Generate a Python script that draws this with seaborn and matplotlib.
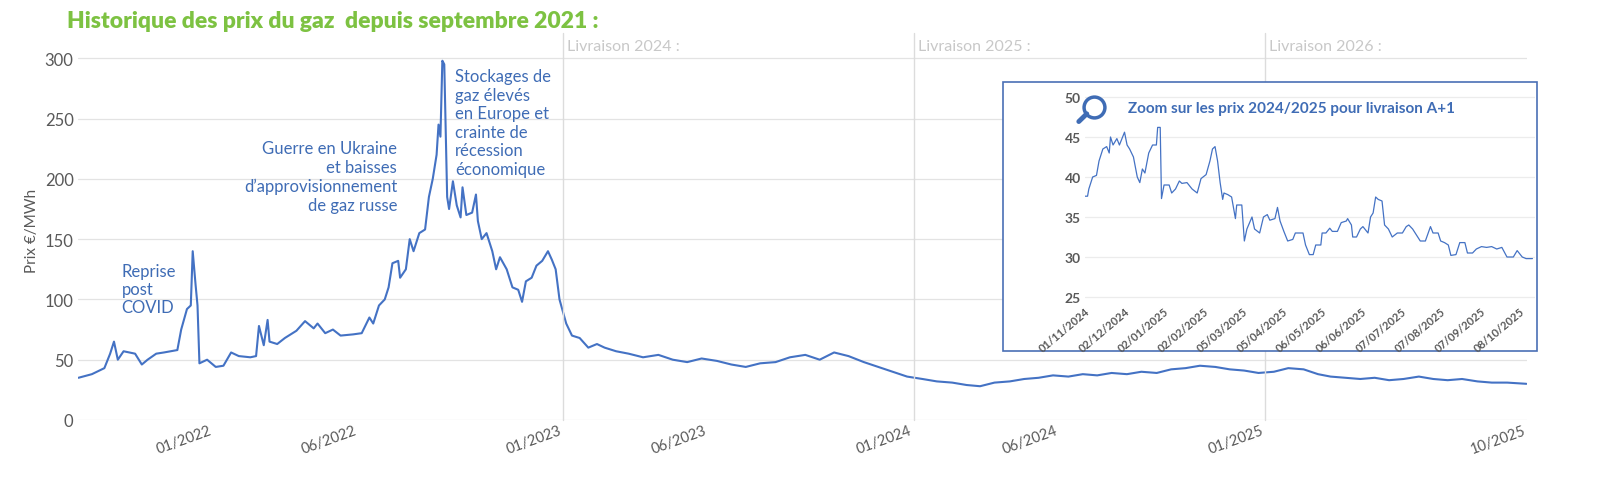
import numpy as np
import pandas as pd
import matplotlib
matplotlib.use("Agg")
import matplotlib.pyplot as plt
import seaborn as sns
from matplotlib.patches import Rectangle
from matplotlib.lines import Line2D

sns.set_theme(style="white")
plt.rcParams['font.family'] = ['Lato', 'DejaVu Sans']

# Prix historiques (EUR/MWh)
dates_hist = ["2021-08-14", "2021-08-28", "2021-09-10", "2021-09-16", "2021-09-20", "2021-09-24",
              "2021-09-30", "2021-10-12", "2021-10-19", "2021-10-25", "2021-11-03", "2021-11-11",
              "2021-11-25", "2021-11-29", "2021-12-05", "2021-12-09", "2021-12-11", "2021-12-14",
              "2021-12-16", "2021-12-18", "2021-12-26", "2022-01-04", "2022-01-12", "2022-01-20",
              "2022-01-28", "2022-02-09", "2022-02-15", "2022-02-18", "2022-02-23", "2022-02-27",
              "2022-03-01", "2022-03-09", "2022-03-17", "2022-03-29", "2022-04-07", "2022-04-16",
              "2022-04-20", "2022-04-28", "2022-05-06", "2022-05-14", "2022-05-27", "2022-06-05",
              "2022-06-13", "2022-06-17", "2022-06-23", "2022-06-29", "2022-07-03", "2022-07-07",
              "2022-07-13", "2022-07-15", "2022-07-21", "2022-07-25", "2022-07-29", "2022-08-04",
              "2022-08-10", "2022-08-14", "2022-08-18", "2022-08-22", "2022-08-24", "2022-08-26",
              "2022-08-28", "2022-08-30", "2022-09-02", "2022-09-04", "2022-09-08", "2022-09-12",
              "2022-09-16", "2022-09-18", "2022-09-22", "2022-09-28", "2022-10-02", "2022-10-04",
              "2022-10-08", "2022-10-13", "2022-10-19", "2022-10-23", "2022-10-27", "2022-11-03",
              "2022-11-09", "2022-11-15", "2022-11-19", "2022-11-23", "2022-11-29", "2022-12-04",
              "2022-12-10", "2022-12-16", "2022-12-20", "2022-12-24", "2022-12-28", "2023-01-04",
              "2023-01-10", "2023-01-18", "2023-01-27", "2023-02-05", "2023-02-13", "2023-02-25",
              "2023-03-10", "2023-03-25", "2023-04-10", "2023-04-25", "2023-05-10", "2023-05-25",
              "2023-06-10", "2023-06-25", "2023-07-10", "2023-07-25", "2023-08-10", "2023-08-25",
              "2023-09-10", "2023-09-25", "2023-10-10", "2023-10-25", "2023-11-10", "2023-11-25",
              "2023-12-10", "2023-12-25", "2024-01-10", "2024-01-25", "2024-02-10", "2024-02-25",
              "2024-03-10", "2024-03-25", "2024-04-10", "2024-04-25", "2024-05-10", "2024-05-25",
              "2024-06-10", "2024-06-25", "2024-07-10", "2024-07-25", "2024-08-10", "2024-08-25",
              "2024-09-10", "2024-09-25", "2024-10-10", "2024-10-25", "2024-11-10", "2024-11-25",
              "2024-12-10", "2024-12-25", "2025-01-10", "2025-01-25", "2025-02-10", "2025-02-25",
              "2025-03-10", "2025-03-25", "2025-04-10", "2025-04-25", "2025-05-10", "2025-05-25",
              "2025-06-10", "2025-06-25", "2025-07-10", "2025-07-25", "2025-08-10", "2025-08-25",
              "2025-09-10", "2025-09-30"]
prix_hist = [35, 38, 43, 55, 65, 50, 57, 55, 46, 50, 55, 56, 58, 75, 92, 95, 140, 112, 95, 47,
             50, 44, 45, 56, 53, 52, 53, 78, 62, 83, 65, 63, 68, 74, 82, 76, 80, 72, 75, 70,
             71, 72, 85, 80, 95, 100, 110, 130, 132, 118, 125, 150, 140, 155, 158, 185, 200, 220,
             245, 235, 298, 295, 185, 175, 198, 178, 168, 193, 170, 172, 187, 165, 150, 155, 140,
             125, 135, 125, 110, 108, 98, 115, 118, 128, 132, 140, 133, 125, 100, 80, 70, 68,
             60, 63, 60, 57,
             # 2023 (mars - décembre)
             55, 52, 54, 50, 48, 51, 49, 46, 44, 47, 48, 52, 54, 50, 56, 53, 48, 44, 40, 36,
             # 2024
             34, 32, 31, 29, 28, 31, 32, 34, 35, 37, 36, 38, 37, 39, 38, 40, 39, 42, 43, 45,
             44, 42, 41, 39,
             # 2025
             40, 43, 42, 38, 36, 35, 34, 35, 33, 34, 36, 34, 33, 34, 32, 31, 31, 30]

# Zoom 2024/2025 : jours depuis le 01/11/2024 et prix
jours_zoom = [0, 2, 3, 6, 9, 11, 14, 17, 19, 20, 22, 25, 27, 31, 33, 35, 38, 41, 43, 45, 47, 50,
              53, 56, 57, 59, 60, 62, 66, 68, 71, 74, 76, 80, 84, 88, 91, 95, 98, 100, 102, 104,
              106, 108, 109, 112, 115, 118, 119, 123, 125, 127, 131, 133, 137, 140, 143, 145,
              149, 151, 153, 156, 159, 163, 165, 171, 173, 176, 179, 181, 185, 186, 189, 192,
              194, 198, 201, 205, 206, 209, 210, 213, 216, 218, 222, 224, 226, 228, 230, 233,
              235, 238, 241, 245, 249, 252, 254, 257, 259, 263, 267, 271, 273, 277, 279, 282,
              285, 287, 291, 294, 298, 300, 304, 307, 311, 315, 319, 323, 327, 331, 336, 339,
              343, 346, 351]
prix_zoom = [37.6, 37.6, 38.5, 40, 40.2, 42, 43.5, 43.8, 43, 45, 44, 44.8, 44, 45.6, 44, 43.5,
             42.5, 40, 39.3, 41, 40.5, 43, 44, 44, 46.2, 46.2, 37.3, 39, 39, 38, 38.5, 39.5,
             39.2, 39.3, 38.5, 38, 39.8, 40.3, 42, 43.5, 43.8, 42, 39.3, 37.2, 38, 37.8, 37.5,
             34.8, 36.5, 36.5, 32, 33.5, 35, 33.5, 33, 35, 35.3, 34.6, 34.8, 36.2, 34.5, 33.2,
             32, 32.2, 33, 33, 31.5, 30.3, 30.3, 31.5, 31.5, 33, 33, 33.6, 33.2, 33.2, 34.3,
             34.5, 34.8, 34, 32.5, 32.5, 33.5, 33.8, 33, 35, 35.5, 37.5, 37.2, 37, 34, 33.5,
             32.5, 33, 33, 33.8, 34, 33.5, 33, 32, 32, 33.8, 33, 33, 32, 31.8, 31.5, 30.2, 30.3,
             31.8, 31.8, 30.5, 30.5, 31, 31.3, 31.2, 31.3, 31, 31.2, 30, 30, 30.8, 30, 29.8, 29.8]

ticks_zoom = ["2024-11-01", "2024-12-02", "2025-01-02", "2025-02-02", "2025-03-05", "2025-04-05",
              "2025-05-06", "2025-06-06", "2025-07-07", "2025-08-07", "2025-09-07", "2025-10-08"]
livraisons = ["2023-01-01", "2024-01-01", "2025-01-01"]
livraison_labels = ["Livraison 2024 :", "Livraison 2025 :", "Livraison 2026 :"]

blue = "#4472c4"
ann = "#3f6cb5"
grey = "#595959"

df = pd.DataFrame({"date": pd.to_datetime(dates_hist), "prix": prix_hist})
dz = pd.DataFrame({"date": pd.Timestamp("2024-11-01") + pd.to_timedelta(jours_zoom, unit="D"),
                   "prix": prix_zoom})

fig = plt.figure(figsize=(16.01, 4.85), dpi=100)
ax = fig.add_axes([0.049, 0.132, 0.905, 0.783])
sns.lineplot(data=df, x="date", y="prix", ax=ax, color=blue, linewidth=1.5)
ax.set_xlim(pd.Timestamp("2021-08-14"), pd.Timestamp("2025-10-01"))
ax.set_ylim(0, 315)
ax.set_yticks(range(0, 301, 50))
ax.grid(axis="y", color="#e3e3e3", linewidth=0.9)
for s in ax.spines.values():
    s.set_visible(False)
ax.set_xlabel("")
ax.set_ylabel("Prix €/MWh", fontsize=11, color=grey)
ax.tick_params(axis="y", labelsize=12, colors=grey, length=0)
xt = pd.to_datetime(["2022-01-01", "2022-06-01", "2023-01-01", "2023-06-01", "2024-01-01",
                     "2024-06-01", "2025-01-01", "2025-10-01"])
ax.set_xticks(xt)
ax.set_xticklabels([d.strftime("%m/%Y") for d in xt], rotation=20, ha="right",
                   fontsize=10.5, color=grey)
ax.tick_params(axis="x", length=0, pad=2)

for d, lab in zip(livraisons, livraison_labels):
    ax.axvline(pd.Timestamp(d), ymin=0, ymax=1.02, color="#dcdcdc", linewidth=1, clip_on=False)
    ax.text(pd.Timestamp(d) + pd.Timedelta(days=4), 310, lab, color="#c8c8c8", fontsize=11.5,
            va="center", ha="left")

fig.text(0.042, 0.955, "Historique des prix du gaz  depuis septembre 2021 :", color="#7dc242",
         fontsize=16.5, fontweight="heavy", va="center")

ax.text(pd.Timestamp("2021-09-28"), 130, "Reprise\npost\nCOVID", color=ann, fontsize=12,
        va="top", ha="left", linespacing=1.15)
ax.text(pd.Timestamp("2022-07-12"), 232, "Guerre en Ukraine\net baisses\nd’approvisionnement\nde gaz russe",
        color=ann, fontsize=12, va="top", ha="right", linespacing=1.2)
ax.text(pd.Timestamp("2022-09-10"), 292, "Stockages de\ngaz élevés\nen Europe et\ncrainte de\nrécession\néconomique",
        color=ann, fontsize=12, va="top", ha="left", linespacing=1.2)

# encadré du zoom
fig.patches.append(Rectangle((1003 / 1601, 1 - 352 / 485), 534 / 1601, 269 / 485,
                             transform=fig.transFigure, facecolor="white", edgecolor="#4a6fb5",
                             linewidth=1.2, zorder=3))
axz = fig.add_axes([1085 / 1601, 1 - 302 / 485, 450 / 1601, 208 / 485], zorder=4)
axz.patch.set_alpha(0)
sns.lineplot(data=dz, x="date", y="prix", ax=axz, color=blue, linewidth=0.9)
axz.set_ylim(24.5, 50.5)
axz.set_yticks(range(25, 51, 5))
axz.set_xlim(pd.Timestamp("2024-11-01"), pd.Timestamp("2025-10-20"))
axz.grid(axis="y", color="#ececec", linewidth=0.9)
for s in axz.spines.values():
    s.set_visible(False)
axz.set_xlabel("")
axz.set_ylabel("")
zt = pd.to_datetime(ticks_zoom)
axz.set_xticks(zt)
axz.set_xticklabels([d.strftime("%d/%m/%Y") for d in zt], rotation=40, ha="right",
                    rotation_mode="anchor", fontsize=8, fontweight="bold", color=grey)
axz.tick_params(axis="both", length=0, pad=3)
axz.tick_params(axis="y", labelsize=10, colors=grey)
for t in axz.get_yticklabels():
    t.set_fontweight("bold")
axz.text(0.095, 0.93, "Zoom sur les prix 2024/2025 pour livraison A+1", transform=axz.transAxes,
         color=ann, fontsize=11, fontweight="bold", va="center")
# loupe
cx, cy = 1094 / 1601, 1 - 108 / 485
fig.lines.append(Line2D([cx], [cy], transform=fig.transFigure, marker="o", markersize=15,
                        markerfacecolor="none", markeredgecolor=ann, markeredgewidth=2.5, zorder=5))
fig.lines.append(Line2D([cx - 0.0045, cx - 0.0095], [cy - 0.014, cy - 0.030],
                        transform=fig.transFigure, color=ann, linewidth=3.5, zorder=5,
                        solid_capstyle="round"))

fig.savefig("out.png", dpi=100)
